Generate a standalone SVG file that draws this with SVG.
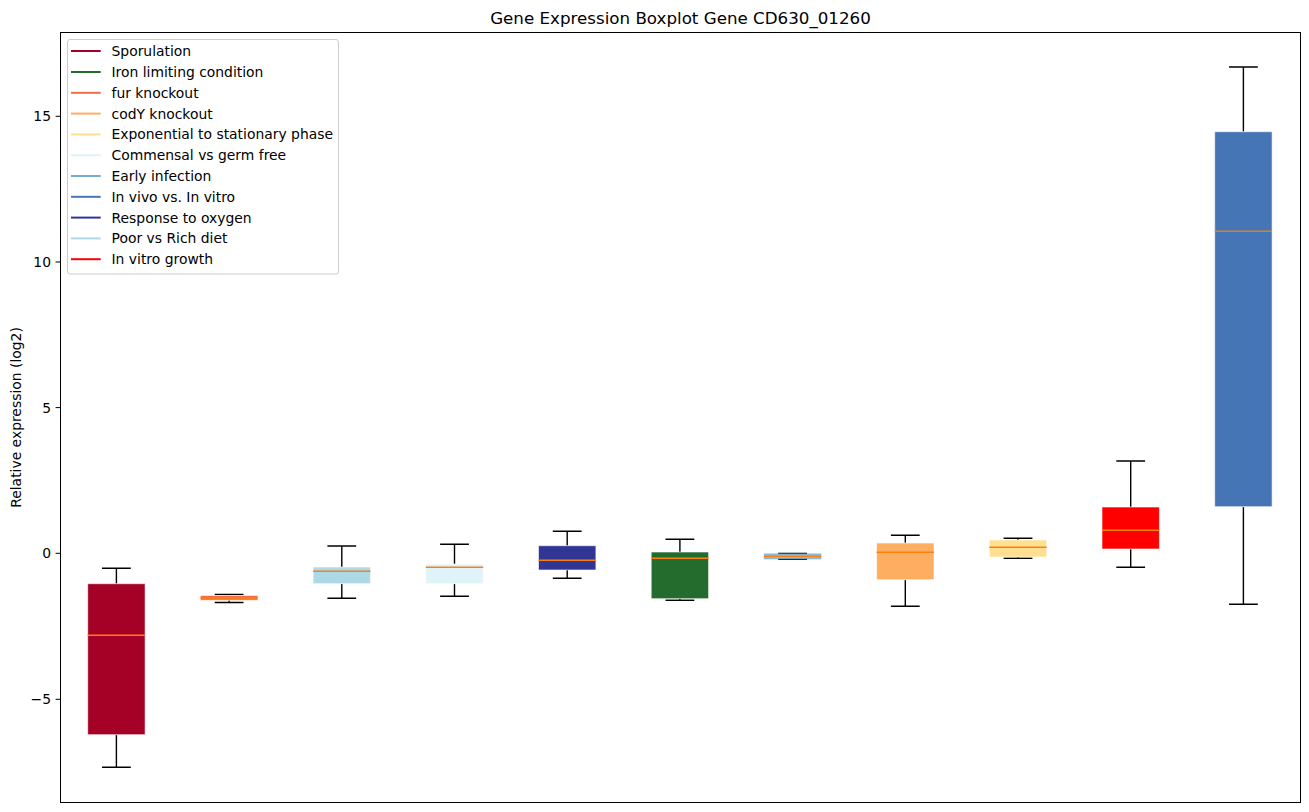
<svg xmlns="http://www.w3.org/2000/svg" width="1309" height="812" viewBox="0 0 1309 812">
<style>
text{font-family:"DejaVu Sans","Liberation Sans",sans-serif;fill:#000}
.tick{font-size:13.9px;text-anchor:end}
.leg{font-size:13.9px}
.box{stroke:#fff;stroke-opacity:0.6;stroke-width:1}
.wh{stroke:#000;stroke-width:1.4;fill:none}
.med{stroke:#ff7f0e;stroke-width:1.4}
.ll{stroke-width:2}
</style>
<rect width="1309" height="812" fill="#fff"/>
<text x="680.5" y="24" font-size="16.7" text-anchor="middle">Gene Expression Boxplot Gene CD630_01260</text>
<text transform="translate(20.5,417.5) rotate(-90)" font-size="13.9" text-anchor="middle">Relative expression (log2)</text>
<g id="axes">
<g stroke="#000" stroke-width="1">
<line x1="55.6" y1="116.3" x2="60.5" y2="116.3"/>
<line x1="55.6" y1="262" x2="60.5" y2="262"/>
<line x1="55.6" y1="407.6" x2="60.5" y2="407.6"/>
<line x1="55.6" y1="553.3" x2="60.5" y2="553.3"/>
<line x1="55.6" y1="699.3" x2="60.5" y2="699.3"/>
</g>
<text class="tick" x="51" y="121.3">15</text>
<text class="tick" x="51" y="267">10</text>
<text class="tick" x="51" y="412.6">5</text>
<text class="tick" x="51" y="558.3">0</text>
<text class="tick" x="51" y="704.3">−5</text>
</g>
<g id="connectors">
<!-- whiskers and caps -->
<g class="wh">
<path d="M116.4 583.7V568.3M102 568.3H130.8M116.4 734.7V767.3M102 767.3H130.8"/>
<path d="M229.1 595.5V594.5M214.7 594.5H243.5M229.1 600.3V602.5M214.7 602.5H243.5"/>
<path d="M341.8 567V546M327.4 546H356.2M341.8 583.7V598.3M327.4 598.3H356.2"/>
<path d="M454.5 564V544.3M440.1 544.3H468.9M454.5 583.7V596.3M440.1 596.3H468.9"/>
<path d="M567.2 545.7V531.3M552.8 531.3H581.6M567.2 570V578.3M552.8 578.3H581.6"/>
<path d="M679.9 552V539.3M665.5 539.3H694.3M679.9 598.7V600.3M665.5 600.3H694.3"/>
<path d="M778.2 553.5H807M778.2 559.3H807"/>
<path d="M905.3 543V535.3M890.9 535.3H919.7M905.3 579.7V606.3M890.9 606.3H919.7"/>
<path d="M1018 540V538.3M1003.6 538.3H1032.4M1018 557V558.3M1003.6 558.3H1032.4"/>
<path d="M1130.7 507V461M1116.3 461H1145.1M1130.7 549V567.3M1116.3 567.3H1145.1"/>
<path d="M1243.4 131.7V67M1229 67H1257.8M1243.4 506.7V604.3M1229 604.3H1257.8"/>
</g>
</g>
<g id="box-sporulation"><rect class="box" x="87.7" y="583.7" width="57.4" height="151" fill="#a50026"/><line class="med" x1="87.7" y1="635.3" x2="145.1" y2="635.3"/></g>
<g id="box-fur"><rect class="box" x="200.4" y="595.5" width="57.4" height="4.8" fill="#f46d43"/><line class="med" x1="200.4" y1="598" x2="257.8" y2="598"/></g>
<g id="box-poor-rich"><rect class="box" x="313.1" y="567" width="57.4" height="16.7" fill="#add8e6"/><line class="med" x1="313.1" y1="571.3" x2="370.5" y2="571.3"/></g>
<g id="box-commensal"><rect class="box" x="425.8" y="564" width="57.4" height="19.7" fill="#e0f3f8"/><line class="med" x1="425.8" y1="567.3" x2="483.2" y2="567.3"/></g>
<g id="box-oxygen"><rect class="box" x="538.5" y="545.7" width="57.4" height="24.3" fill="#313695"/><line class="med" x1="538.5" y1="560.3" x2="595.9" y2="560.3"/></g>
<g id="box-iron"><rect class="box" x="651.2" y="552" width="57.4" height="46.7" fill="#236c2e"/><line class="med" x1="651.2" y1="558.3" x2="708.6" y2="558.3"/></g>
<g id="box-early"><rect x="763.9" y="553.5" width="57.4" height="5.8" fill="#74add1" fill-opacity="0.85"/><line class="med" x1="763.9" y1="556.4" x2="821.3" y2="556.4"/></g>
<g id="box-cody"><rect class="box" x="876.6" y="543" width="57.4" height="36.7" fill="#fdae61"/><line class="med" x1="876.6" y1="552.3" x2="934" y2="552.3"/></g>
<g id="box-exponential"><rect class="box" x="989.3" y="540" width="57.4" height="17" fill="#fee090"/><line class="med" x1="989.3" y1="547.3" x2="1046.7" y2="547.3"/></g>
<g id="box-invitro-growth"><rect class="box" x="1102" y="507" width="57.4" height="42" fill="#ff0000"/><line class="med" x1="1102" y1="530.3" x2="1159.4" y2="530.3"/></g>
<g id="box-invivo"><rect class="box" x="1214.7" y="131.7" width="57.4" height="375" fill="#4575b4"/><line class="med" x1="1214.7" y1="231.3" x2="1272.1" y2="231.3" stroke-opacity="0.8"/></g>
<rect id="frame" x="60.5" y="32.5" width="1240" height="770" fill="none" stroke="#000" stroke-width="1"/>
<g id="legend">
<rect x="67.5" y="39.5" width="271" height="234.5" rx="2.5" fill="#fff" fill-opacity="0.8" stroke="#ccc" stroke-width="1"/>
<line class="ll" x1="71" y1="51" x2="100.7" y2="51" stroke="#a50026"/><text class="leg" x="111.5" y="56">Sporulation</text>
<line class="ll" x1="71" y1="72" x2="100.7" y2="72" stroke="#236c2e"/><text class="leg" x="111.5" y="77">Iron limiting condition</text>
<line class="ll" x1="71" y1="92.8" x2="100.7" y2="92.8" stroke="#f46d43"/><text class="leg" x="111.5" y="97.8">fur knockout</text>
<line class="ll" x1="71" y1="113.6" x2="100.7" y2="113.6" stroke="#fdae61"/><text class="leg" x="111.5" y="118.6">codY knockout</text>
<line class="ll" x1="71" y1="134.4" x2="100.7" y2="134.4" stroke="#fee090"/><text class="leg" x="111.5" y="139.4">Exponential to stationary phase</text>
<line class="ll" x1="71" y1="155.2" x2="100.7" y2="155.2" stroke="#e0f3f8"/><text class="leg" x="111.5" y="160.2">Commensal vs germ free</text>
<line class="ll" x1="71" y1="176" x2="100.7" y2="176" stroke="#74add1"/><text class="leg" x="111.5" y="181">Early infection</text>
<line class="ll" x1="71" y1="196.8" x2="100.7" y2="196.8" stroke="#4575b4"/><text class="leg" x="111.5" y="201.8">In vivo vs. In vitro</text>
<line class="ll" x1="71" y1="217.6" x2="100.7" y2="217.6" stroke="#313695"/><text class="leg" x="111.5" y="222.6">Response to oxygen</text>
<line class="ll" x1="71" y1="238.4" x2="100.7" y2="238.4" stroke="#add8e6"/><text class="leg" x="111.5" y="243.4">Poor vs Rich diet</text>
<line class="ll" x1="71" y1="259.2" x2="100.7" y2="259.2" stroke="#ff0000"/><text class="leg" x="111.5" y="264.2">In vitro growth</text>
</g>
</svg>
